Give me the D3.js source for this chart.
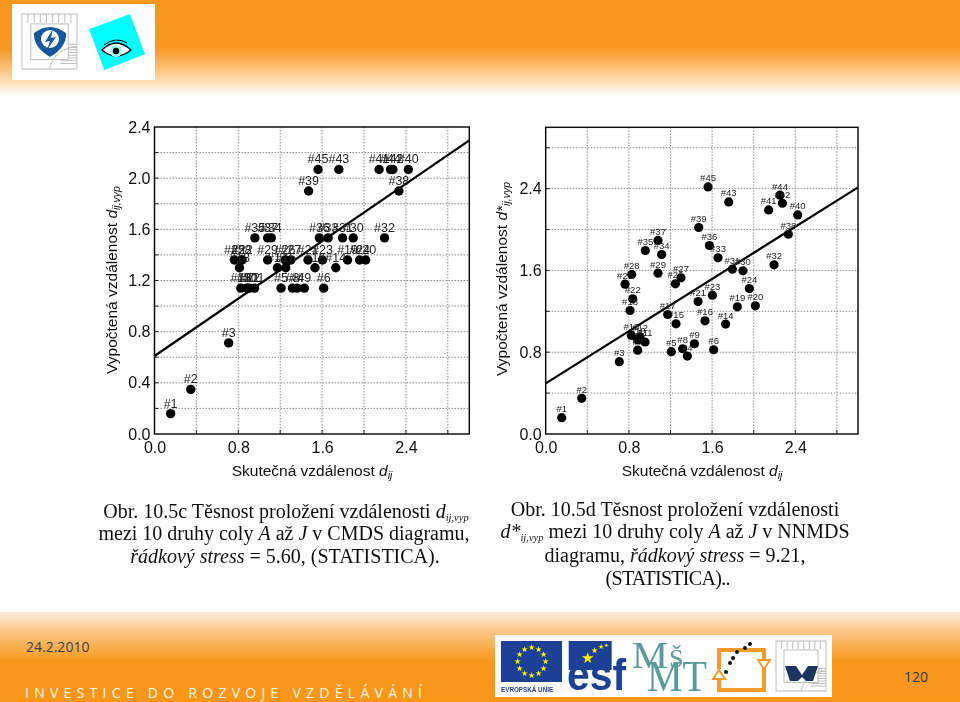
<!DOCTYPE html>
<html><head><meta charset="utf-8">
<style>html,body{margin:0;padding:0;background:#fff;overflow:hidden}svg{display:block}
text{font-family:"Liberation Sans",Arial,sans-serif;white-space:pre}</style>
<script src="https://cdn.jsdelivr.net/npm/d3@7"></script></head><body>
<script>
// true distance (shared x values) for pairs #1..#45
const actual=[.154,.346,.708,1.362,1.208,1.615,.885,1.317,1.43,.885,.955,.907,.824,1.73,1.253,1.532,1.173,.811,1.843,2.016,1.465,.837,1.603,1.958,.763,1.247,1.301,.827,1.08,1.897,1.795,2.196,1.657,1.115,.958,1.574,1.08,2.333,1.471,2.423,2.144,2.276,1.76,2.253,1.561];
const cmds=[.159,.349,.712,1.14,1.14,1.14,1.14,1.14,1.14,1.14,1.14,1.14,1.14,1.30,1.30,1.30,1.30,1.30,1.36,1.36,1.36,1.36,1.36,1.36,1.36,1.36,1.36,1.36,1.36,1.533,1.533,1.533,1.533,1.533,1.533,1.533,1.533,1.90,1.90,2.068,2.068,2.068,2.068,2.068,2.068];
const nnmds=[.16,.349,.707,.762,.805,.824,.82,.834,.883,.92,.90,.95,.964,1.075,1.078,1.107,1.169,1.208,1.244,1.254,1.296,1.322,1.358,1.423,1.466,1.469,1.528,1.56,1.573,1.596,1.612,1.655,1.723,1.756,1.795,1.844,1.893,1.954,2.02,2.143,2.192,2.257,2.27,2.336,2.417];
const fitCmdsX=[0,3.005], fitCmdsY=[.61,2.295];
const fitNnmdsX=[0,3], fitNnmdsY=[.495,2.41];
const xLabels=[0,.8,1.6,2.4];
const yLabelsC=[0,.4,.8,1.2,1.6,2,2.4];
const yLabelsN=[0,.8,1.6,2.4];
const xGrid=[.4,.8,1.2,1.6,2,2.4,2.8];
const yGridC=[.2,.4,.6,.8,1,1.2,1.4,1.6,1.8,2,2.2];
const yGridN=[.4,.8,1.2,1.6,2,2.4,2.8];

const svg=d3.select("body").append("svg").attr("width",960).attr("height",702);
const defs=svg.append("defs");
const topG=defs.append("linearGradient").attr("id","tg").attr("x1",0).attr("x2",0).attr("y1",0).attr("y2",1);
[[0,"#f8961e"],[.5,"#f9981f"],[.75,"#fcc888"],[1,"#ffffff"]].forEach(s=>topG.append("stop").attr("offset",s[0]).attr("stop-color",s[1]));
const botG=defs.append("linearGradient").attr("id","bg").attr("x1",0).attr("x2",0).attr("y1",0).attr("y2",1);
[[0,"#fdeedd"],[.2,"#fcc88c"],[.55,"#f8981c"],[1,"#f8961a"]].forEach(s=>botG.append("stop").attr("offset",s[0]).attr("stop-color",s[1]));
defs.append("filter").attr("id","soft").append("feGaussianBlur").attr("stdDeviation",.4);
svg.append("rect").attr("width",960).attr("height",96).attr("fill","url(#tg)");
svg.append("rect").attr("y",612).attr("width",960).attr("height",90).attr("fill","url(#bg)");

function chart(o){
  const g=svg.append("g").attr("filter","url(#soft)");
  const x=d3.scaleLinear().domain(o.xd).range([o.l,o.r]);
  const y=d3.scaleLinear().domain(o.yd).range([o.b,o.t]);
  g.append("g").selectAll("line").data(xGrid).join("line").attr("x1",d=>x(d)).attr("x2",d=>x(d)).attr("y1",o.t).attr("y2",o.b)
    .attr("stroke","#8a8a8a").attr("stroke-width",1).attr("stroke-dasharray","1.5 1.5");
  g.append("g").selectAll("line").data(o.yGrid).join("line").attr("y1",d=>y(d)).attr("y2",d=>y(d)).attr("x1",o.l).attr("x2",o.r)
    .attr("stroke","#8a8a8a").attr("stroke-width",1).attr("stroke-dasharray","1.5 1.5");
  const ax=g.append("g").attr("transform",`translate(0,${o.b})`).call(d3.axisBottom(x).tickValues(xLabels).tickFormat(d3.format(".1f")).tickSize(0).tickPadding(8));
  const ay=g.append("g").attr("transform",`translate(${o.l},0)`).call(d3.axisLeft(y).tickValues(o.yTicks).tickFormat(d3.format(".1f")).tickSize(0).tickPadding(4));
  [ax,ay].forEach(a=>{a.select(".domain").remove();a.selectAll("text").attr("font-size",16).attr("fill","#111");});
  g.append("g").selectAll("line").data(xGrid).join("line").attr("x1",d=>x(d)).attr("x2",d=>x(d)).attr("y1",o.b).attr("y2",o.b-4).attr("stroke","#222");
  g.append("g").selectAll("line").data(o.yGrid).join("line").attr("y1",d=>y(d)).attr("y2",d=>y(d)).attr("x1",o.l).attr("x2",o.l+4).attr("stroke","#222");
  g.append("rect").attr("x",o.l).attr("y",o.t).attr("width",o.r-o.l).attr("height",o.b-o.t).attr("fill","none").attr("stroke","#111").attr("stroke-width",1.5);
  g.append("path").attr("d",d3.line().x(d=>x(d[0])).y(d=>y(d[1]))(d3.zip(o.fx,o.fy))).attr("stroke","#000").attr("stroke-width",2.2).attr("fill","none");
  const pts=d3.zip(actual,o.vals);
  g.append("g").selectAll("circle").data(pts).join("circle").attr("cx",d=>x(d[0])).attr("cy",d=>y(d[1])).attr("r",o.rad).attr("fill","#000");
  g.append("g").selectAll("text").data(pts).join("text").attr("x",d=>x(d[0])).attr("y",d=>y(d[1])-o.dy).attr("text-anchor","middle")
    .attr("font-size",o.fs).attr("fill","#222").text((d,i)=>"#"+(i+1));
  const xt=g.append("text").attr("x",o.xtx).attr("y",476).attr("font-size",15.5).attr("fill","#111").attr("text-anchor","middle");
  xt.append("tspan").text("Skutečná vzdálenost ");
  xt.append("tspan").attr("font-style","italic").text("d");
  xt.append("tspan").attr("font-style","italic").attr("font-size",10.5).attr("dy",3).text("ij");
  const yt=g.append("text").attr("transform",`translate(${o.ytx},${o.yty}) rotate(-90)`).attr("font-size",15.5).attr("fill","#111").attr("text-anchor","middle");
  yt.append("tspan").text("Vypočtená vzdálenost ");
  yt.append("tspan").attr("font-style","italic").text(o.ysym);
  yt.append("tspan").attr("font-style","italic").attr("font-size",10.5).attr("dy",3).text("ij,vyp");
}
chart({l:154.5,r:469.3,t:127,b:434,xd:[0,3.005],yd:[0,2.4],yGrid:yGridC,yTicks:yLabelsC,vals:cmds,fx:fitCmdsX,fy:fitCmdsY,rad:4.7,dy:6,fs:12.5,xtx:312,ytx:117,yty:280,ysym:"d"});
chart({l:545.7,r:858,t:127.3,b:434,xd:[0,3.003],yd:[0,3],yGrid:yGridN,yTicks:yLabelsN,vals:nnmds,fx:fitNnmdsX,fy:fitNnmdsY,rad:4.6,dy:5.5,fs:9.5,xtx:702,ytx:507,yty:279,ysym:"d*"});

// captions
function cap(lines){
  const g=svg.append("g").attr("filter","url(#soft)");
  lines.forEach(l=>{
    const t=g.append("text").attr("x",l.x).attr("y",l.y).attr("text-anchor","middle").attr("font-size",20).attr("fill","#111").style("font-family",'"Liberation Serif"');
    if(l.w)t.attr("textLength",l.w);
    l.p.forEach(p=>{const s=t.append("tspan").text(p[0]);
      if(p[1])s.attr("font-style","italic");
      if(p[2]){s.attr("font-size",10.5).attr("dy",3);} else if(p[3]){s.attr("dy",-3);}});
  });
}
cap([
 {x:286,y:518,p:[["Obr. 10.5c Těsnost proložení vzdálenosti "],["d",1],["ij,vyp",1,1]]},
 {x:284,y:540,p:[["mezi 10 druhy coly "],["A",1],[" až "],["J",1],[" v CMDS diagramu,"]]},
 {x:285,y:563,p:[["řádkový stress",1],[" = 5.60, (STATISTICA)."]]},
 {x:675,y:516,p:[["Obr. 10.5d Těsnost proložení vzdálenosti"]]},
 {x:675,y:538,p:[["d*",1],["ij,vyp",1,1],[" mezi 10 druhy coly ",0,0,1],["A",1],[" až "],["J",1],[" v NNMDS"]]},
 {x:675,y:562,p:[["diagramu, "],["řádkový stress",1],[" = 9.21,"]]},
 {x:668,y:585,w:125,p:[["(STATISTICA).."]]}
]);

// header logos
const h=svg.append("g").attr("filter","url(#soft)");
h.append("rect").attr("x",12).attr("y",4).attr("width",143).attr("height",76).attr("fill","#fff");
function hall(g,x,y,s){
  const c="#bdbdbd";
  g.append("rect").attr("x",x).attr("y",y).attr("width",s).attr("height",s).attr("fill","none").attr("stroke",c);
  d3.range(1,9).forEach(i=>{g.append("line").attr("x1",x+i*s/9).attr("x2",x+i*s/9).attr("y1",y).attr("y2",y+s*.16).attr("stroke",c);
    g.append("line").attr("x1",x+s*.7).attr("x2",x+s).attr("y1",y+s*.5+i*s/20).attr("y2",y+s*.5+i*s/20).attr("stroke",c);});
  g.append("rect").attr("x",x+s*.16).attr("y",y+s*.18).attr("width",s*.68).attr("height",s*.65).attr("fill","#fff").attr("stroke",c);
  g.append("path").attr("d",`M${x+s*.5} ${y+s} A${s*.5} ${s*.5} 0 0 1 ${x+s} ${y+s*.6}`).attr("fill","none").attr("stroke",c);
}
hall(h,22,14,55);
h.append("path").attr("d","M34 33 Q50 21 66 33 Q67 47 50 57 Q33 47 34 33Z").attr("fill","#17599b");
h.append("circle").attr("cx",50).attr("cy",39).attr("r",9).attr("fill","#fff");
h.append("path").attr("d","M53 29 L45 42 L50 41 L47 50 L56 37 L51 38Z").attr("fill","#17599b");
h.append("polygon").attr("points","89,29.3 130,14 145,54.3 104.3,70").attr("fill","#00ffff");
h.append("path").attr("d","M102 50 Q116 36 131 50 Q116 62 102 50Z").attr("fill","#fff").attr("stroke","#000").attr("stroke-width",1.2);
h.append("path").attr("d","M104 45 Q116 36 127 43").attr("fill","none").attr("stroke","#000");
h.append("circle").attr("cx",116).attr("cy",51).attr("r",6).attr("fill","#9ff");
h.append("circle").attr("cx",116).attr("cy",51).attr("r",3.2).attr("fill","#000");

// footer logos
const f=svg.append("g").attr("filter","url(#soft)");
f.append("rect").attr("x",495).attr("y",635).attr("width",337).attr("height",62).attr("fill","#fff");
f.append("rect").attr("x",501).attr("y",641).attr("width",61).attr("height",41).attr("fill","#1f3f94");
d3.range(12).forEach(i=>{const a=i/12*2*Math.PI;
  f.append("text").attr("x",531.5+14*Math.sin(a)).attr("y",661.5-14*Math.cos(a)+2.5).attr("text-anchor","middle").attr("font-size",7.5).attr("fill","#fff200").text("★");});
f.append("text").attr("x",501).attr("y",692).attr("font-size",6.3).attr("font-weight","bold").attr("fill","#24408e").text("EVROPSKÁ UNIE");
f.append("rect").attr("x",568.7).attr("y",641).attr("width",43).attr("height",29).attr("fill","#1f3f94");
[[587,658,15],[594,650,8],[601,647,6.5],[606,645,5]].forEach(s=>f.append("text").attr("x",s[0]).attr("y",s[1]+s[2]*.35).attr("text-anchor","middle").attr("font-size",s[2]).attr("fill","#fff200").text("★"));
f.append("text").attr("x",567).attr("y",690).attr("font-size",44).attr("font-weight","bold").attr("fill","#1f3f94").attr("textLength",59).attr("lengthAdjust","spacingAndGlyphs").text("esf");
const teal="#5a9a98", serif='"Liberation Serif"';
f.append("text").attr("x",632).attr("y",668).attr("font-size",38).attr("fill",teal).style("font-family",serif).attr("textLength",36).attr("lengthAdjust","spacingAndGlyphs").text("M");
f.append("text").attr("x",669).attr("y",667).attr("font-size",26).attr("fill",teal).style("font-family",serif).text("Š");
f.append("text").attr("x",647).attr("y",691).attr("font-size",44).attr("fill",teal).style("font-family",serif).attr("textLength",60).attr("lengthAdjust","spacingAndGlyphs").text("MT");
f.append("path").attr("d","M719 669 V650 H764 V662 M719 680 V690 H764 V668").attr("fill","none").attr("stroke","#f39a2c").attr("stroke-width",4);
f.append("polygon").attr("points","758,660 770,660 764,669").attr("fill","#fff").attr("stroke","#f39a2c").attr("stroke-width",2);
f.append("polygon").attr("points","713,679 725,679 719,670").attr("fill","#fff").attr("stroke","#f39a2c").attr("stroke-width",2);
[[726,672],[730,663],[733,658],[737,652],[745,648],[750,644]].forEach(p=>f.append("circle").attr("cx",p[0]).attr("cy",p[1]).attr("r",2).attr("fill","#111"));
hall(f,776,641,50);
f.append("path").attr("d","M785 666 H796 L802 675 L808 666 H818 L813 681 H806 L802 677 L798 681 H790Z").attr("fill","#1e3560");

// footer text
const ft=svg.append("g");
ft.append("text").attr("x",26).attr("y",652).attr("font-size",14).attr("fill","#3a3f50").style("font-family",'"Open Sans"').text("24.2.2010");
ft.append("text").attr("x",25).attr("y",698).attr("font-size",14).attr("fill","#fff6e4").style("font-family",'"Open Sans"').attr("textLength",397).text("I N V E S T I C E   D O   R O Z V O J E   V Z D Ě L Á V Á N Í");
ft.append("text").attr("x",904).attr("y",682).attr("font-size",14).attr("fill","#2e3a44").style("font-family",'"Open Sans"').text("120");
</script></body></html>
